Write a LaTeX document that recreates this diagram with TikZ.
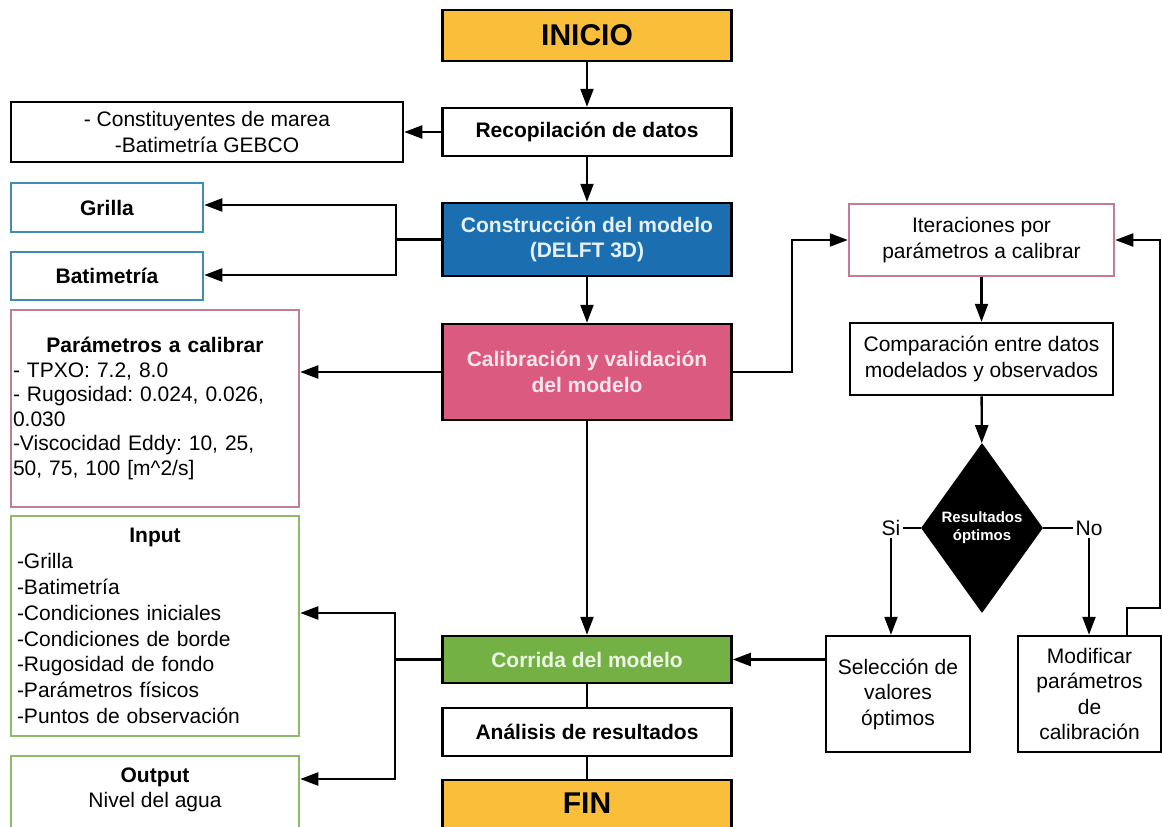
\documentclass[tikz,border=0pt]{standalone}
\usepackage{fontspec}
\setmainfont{Liberation Sans}
\usetikzlibrary{shapes.geometric,arrows.meta}
\definecolor{corange}{HTML}{F9BF3B}
\definecolor{cblue}{HTML}{1B6FB0}
\definecolor{cbluetxt}{HTML}{E6F0F8}
\definecolor{cblueline}{HTML}{3D8DB5}
\definecolor{cpink}{HTML}{DB5A80}
\definecolor{cpinktxt}{HTML}{FBE6EE}
\definecolor{cpinkline}{HTML}{C27C97}
\definecolor{cgreen}{HTML}{73B144}
\definecolor{cgreentxt}{HTML}{EDF6E4}
\definecolor{cgreenline}{HTML}{8EBB6B}
\frenchspacing
\begin{document}
\begin{tikzpicture}[x=1pt,y=-1pt,
  every node/.style={font=\fontsize{21}{25.5}\selectfont, inner sep=2pt, align=center},
  box/.style={draw=black, line width=2.5pt, rectangle, fill=white},
  bold/.style={font=\fontsize{21}{25.5}\selectfont\bfseries},
  big/.style={font=\fontsize{30}{34}\selectfont\bfseries},
  arr/.style={-{Triangle[length=18pt,width=13pt]}, line width=2.3pt},
  ln/.style={line width=2.3pt}]
\useasboundingbox (0,0) rectangle (1162,827);
\fill[white] (0,0) rectangle (1162,827);

% main column
\node[box, fill=corange, big, minimum width=289pt, minimum height=51pt] (inicio) at (587,35.5) {INICIO};
\node[box, bold, minimum width=289pt, minimum height=48pt] (recop) at (587,132) {Recopilación de datos};
\node[box, bold, fill=cblue, text=cbluetxt, minimum width=289pt, minimum height=73pt] (constr) at (587,239.5) {Construcción del modelo\\(DELFT 3D)};
\node[box, bold, fill=cpink, text=cpinktxt, minimum width=289pt, minimum height=96pt] (calib) at (587,372) {Calibración y validación\\del modelo};
\node[box, bold, fill=cgreen, text=cgreentxt, minimum width=289pt, minimum height=47pt] (corrida) at (587,659.5) {Corrida del modelo};
\node[box, bold, minimum width=289pt, minimum height=48pt] (analisis) at (587,732) {Análisis de resultados};
\node[box, fill=corange, big, minimum width=289pt, minimum height=52pt] (fin) at (587,806) {};
\node[big] (fintxt) at (587,803) {FIN};

% left column
\node[box, minimum width=392pt, minimum height=60pt] (datos) at (207,132) {- Constituyentes de marea\\-Batimetría GEBCO};
\node[box, bold, draw=cblueline, minimum width=192pt, minimum height=49pt] (grilla) at (107,207.5) {Grilla};
\node[box, bold, draw=cblueline, minimum width=192pt, minimum height=48pt] (bati) at (107,276) {Batimetría};
\node[box, draw=cpinkline, minimum width=288pt, minimum height=197pt, text width=284pt, align=left, font=\fontsize{21}{24.5}\selectfont] (param) at (155,408.5)
  {\makebox[284pt]{\bfseries Parámetros a calibrar}\\- TPXO: 7.2, 8.0\\- Rugosidad: 0.024, 0.026,\\0.030\\-Viscocidad Eddy: 10, 25,\\50, 75, 100 [m\^{}2/s]};
\node[box, draw=cgreenline, minimum width=288pt, minimum height=220pt, inner xsep=6pt, text width=276pt, align=left, font=\fontsize{21}{25.8}\selectfont] (input) at (155,626)
  {\makebox[276pt]{\bfseries Input}\\-Grilla\\-Batimetría\\-Condiciones iniciales\\-Condiciones de borde\\-Rugosidad de fondo\\-Parámetros físicos\\-Puntos de observación};
\node[box, draw=cgreenline, minimum width=288pt, minimum height=80pt] (output) at (155,796) {};
\node (outtxt) at (155,790) {\bfseries Output\\Nivel del agua};

% right column
\node[box, draw=cpinkline, minimum width=265pt, minimum height=72pt] (iter) at (981.5,240) {Iteraciones por\\parámetros a calibrar};
\node[box, minimum width=263pt, minimum height=72pt] (comp) at (981.5,359) {Comparación entre datos\\modelados y observados};
\node[diamond, fill=black, inner sep=0pt, minimum width=122pt, minimum height=170pt, text=white, font=\fontsize{15}{18}\selectfont\bfseries] (dia) at (982,528) {Resultados\\óptimos};
\node (si) at (891,528) {Si};
\node (no) at (1089,528) {No};
\node[box, minimum width=144pt, minimum height=116pt] (selec) at (898,694) {Selección de\\valores\\óptimos};
\node[box, minimum width=143pt, minimum height=116pt] (modif) at (1089.5,694) {Modificar\\parámetros\\de\\calibración};

\coordinate (j1) at (396,239.5);
\coordinate (j2) at (792,372);
\coordinate (j3) at (395,659.5);
\coordinate (m1) at (1127,608);
\coordinate (m2) at (1160,608);

% connectors
\draw[arr] (inicio) -- (recop);
\draw[arr] (recop.west) -- (datos.east);
\draw[arr] (recop) -- (constr);
\draw[ln] (constr.west) -- (j1);
\draw[arr] (j1) |- ([yshift=2.5pt]grilla.east);
\draw[arr] (j1) |- ([yshift=1pt]bati.east);
\draw[arr] (constr) -- (calib);
\draw[arr] (calib.west) -- (calib.west -| param.east);
\draw[arr] (calib.east) -- (j2) |- (iter.west);
\draw[arr] (iter) -- (comp);
\draw[arr] (comp) -- (dia);
\draw[ln] (dia.west) -- (si.east);
\draw[ln] (dia.east) -- (no.west);
\draw[arr] (si.south) -- (si.south |- selec.north);
\draw[arr] (no.south) -- (no.south |- modif.north);
\draw[arr] (modif.north -| m1) -- (m1) -- (m2) |- (iter.east);
\draw[arr] (selec.west |- corrida.east) -- (corrida.east);
\draw[arr] (calib) -- (corrida);
\draw[ln] (corrida) -- (analisis);
\draw[ln] (analisis) -- (fin);
\draw[ln] (corrida.west) -- (j3);
\draw[arr] (j3) |- ([yshift=13pt]input.east);
\draw[arr] (j3) |- ([yshift=17pt]output.east);
\end{tikzpicture}
\end{document}
